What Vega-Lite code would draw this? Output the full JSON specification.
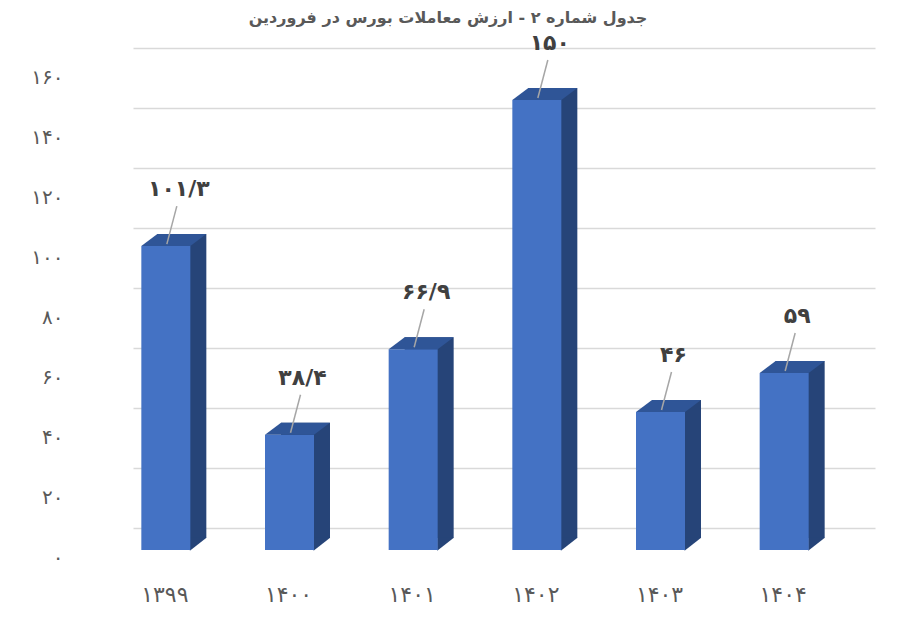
{
  "$schema": "https://vega.github.io/schema/vega-lite/v6.json",
  "autosize": "none",
  "padding": {"left": 133, "top": 70, "right": 25, "bottom": 80},
  "width": 742,
  "height": 480,
  "background": "white",
  "title": {
    "text": "جدول شماره ۲ - ارزش معاملات بورس در فروردین",
    "font": "DejaVu Sans",
    "fontSize": 16,
    "fontWeight": "bold",
    "color": "#595959",
    "anchor": "middle",
    "dx": -56,
    "offset": 6
  },
  "config": {
    "view": {"stroke": null},
    "font": "DejaVu Sans"
  },
  "data": {
    "values": [
      {"year": "۱۳۹۹", "value": 101.3, "label": "۱۰۱/۳"},
      {"year": "۱۴۰۰", "value": 38.4, "label": "۳۸/۴"},
      {"year": "۱۴۰۱", "value": 66.9, "label": "۶۶/۹"},
      {"year": "۱۴۰۲", "value": 150, "label": "۱۵۰"},
      {"year": "۱۴۰۳", "value": 46, "label": "۴۶"},
      {"year": "۱۴۰۴", "value": 59, "label": "۵۹"}
    ]
  },
  "encoding": {
    "x": {
      "field": "year",
      "type": "nominal",
      "sort": null,
      "scale": {"paddingInner": 0, "paddingOuter": 0},
      "axis": {
        "title": null,
        "domain": false,
        "ticks": false,
        "labelAngle": 0,
        "labelFontSize": 22,
        "labelColor": "#595959",
        "labelPadding": 34,
        "labelOffset": -30
      }
    }
  },
  "layer": [
    {
      "mark": {"type": "bar", "size": 49, "color": "#264478", "xOffset": -13, "yOffset": -12, "y2Offset": -12},
      "encoding": {
        "y": {
          "field": "value",
          "type": "quantitative",
          "scale": {"domain": [0, 160], "nice": false},
          "axis": {
            "title": null,
            "domain": false,
            "ticks": false,
            "values": [0, 20, 40, 60, 80, 100, 120, 140, 160],
            "gridColor": "#D9D9D9",
            "gridWidth": 1.5,
            "tickOffset": -22,
            "labelOffset": 29,
            "labelPadding": 70,
            "labelFontSize": 20,
            "labelColor": "#595959",
            "labelExpr": "replace(replace(replace(replace(replace(replace(replace(replace(replace(replace(datum.label, regexp('0','g'), '۰'), regexp('1','g'), '۱'), regexp('2','g'), '۲'), regexp('3','g'), '۳'), regexp('4','g'), '۴'), regexp('5','g'), '۵'), regexp('6','g'), '۶'), regexp('7','g'), '۷'), regexp('8','g'), '۸'), regexp('9','g'), '۹')"
          }
        }
      }
    },
    {
      "mark": {
        "type": "point",
        "filled": true,
        "opacity": 1,
        "color": "#264478",
        "strokeWidth": 0,
        "size": 4225,
        "xOffset": -29,
        "shape": "M0.74,0.02L0.74,-0.38L1.25,-0.38Z"
      },
      "encoding": {"y": {"datum": 0, "type": "quantitative"}}
    },
    {
      "mark": {"type": "bar", "size": 49, "color": "#4472C4", "xOffset": -29},
      "encoding": {"y": {"field": "value", "type": "quantitative"}}
    },
    {
      "mark": {
        "type": "point",
        "filled": true,
        "opacity": 1,
        "color": "#2F5597",
        "strokeWidth": 0,
        "size": 4225,
        "xOffset": -29,
        "shape": "M-0.754,0L0.754,0L1.246,-0.369L-0.262,-0.369Z"
      },
      "encoding": {"y": {"field": "value", "type": "quantitative"}}
    },
    {
      "mark": {"type": "rule", "color": "#A6A6A6", "strokeWidth": 1.5, "xOffset": -28, "x2Offset": -18, "yOffset": -2, "y2Offset": -40},
      "encoding": {
        "x2": {"field": "year"},
        "y": {"field": "value", "type": "quantitative"},
        "y2": {"field": "value"}
      }
    },
    {
      "mark": {"type": "text", "fontSize": 22, "fontWeight": "bold", "color": "#404040", "xOffset": -16, "yOffset": -57, "baseline": "middle"},
      "encoding": {
        "y": {"field": "value", "type": "quantitative"},
        "text": {"field": "label"}
      }
    }
  ]
}
